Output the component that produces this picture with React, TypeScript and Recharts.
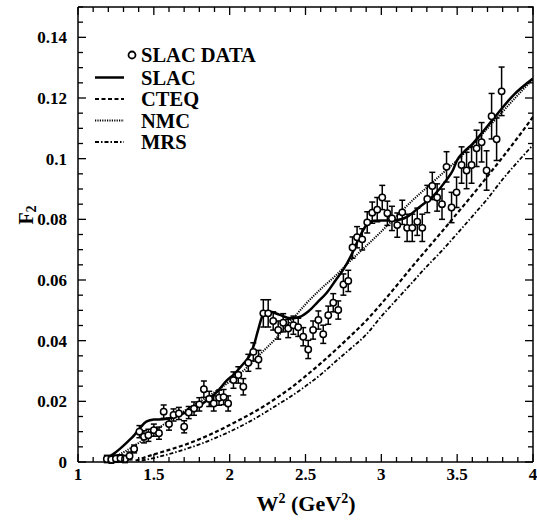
import { ComposedChart, Line, Scatter, XAxis, YAxis, ErrorBar } from "recharts";

// SLAC data points
const dataW2 = [
  1.19, 1.22, 1.25, 1.28, 1.31, 1.34, 1.37, 1.405, 1.435, 1.464,
  1.5, 1.534, 1.565, 1.6, 1.63, 1.665, 1.7, 1.73, 1.765, 1.8,
  1.83, 1.865, 1.895, 1.93, 1.96, 1.99, 2.025, 2.057, 2.09, 2.123,
  2.156, 2.19, 2.222, 2.254, 2.287, 2.32, 2.353, 2.386, 2.42, 2.452,
  2.485, 2.518, 2.55, 2.585, 2.617, 2.65, 2.683, 2.716, 2.75, 2.782,
  2.81, 2.84, 2.874, 2.907, 2.94, 2.973, 3.006, 3.04, 3.07, 3.105,
  3.138, 3.17, 3.204, 3.237, 3.27, 3.303, 3.336, 3.368, 3.4, 3.43,
  3.463, 3.496, 3.529, 3.562, 3.595, 3.628, 3.661, 3.694, 3.727, 3.76,
  3.793,
];
const dataF2 = [
  0.001, 0.0008, 0.0011, 0.0012, 0.001, 0.002, 0.0043, 0.01, 0.0083, 0.0088,
  0.0105, 0.0095, 0.0166, 0.0125, 0.0155, 0.016, 0.0116, 0.0163, 0.0176, 0.019,
  0.024, 0.0208, 0.0193, 0.0212, 0.0214, 0.0193, 0.027, 0.0287, 0.0248, 0.0327,
  0.0363, 0.0338, 0.049, 0.049, 0.0465, 0.0435, 0.0459, 0.044, 0.0451, 0.0444,
  0.0413, 0.0371, 0.0435, 0.0468, 0.0421, 0.0484, 0.0525, 0.0501, 0.0585, 0.0597,
  0.0707, 0.0741, 0.0734, 0.079, 0.0822, 0.0832, 0.0872, 0.082, 0.0803, 0.0781,
  0.0823, 0.0772, 0.0772, 0.0792, 0.0772, 0.0867, 0.091, 0.0872, 0.085, 0.0973,
  0.0839, 0.0889, 0.0979, 0.0961, 0.0979, 0.1034, 0.1054, 0.0961, 0.114, 0.1064,
  0.1222,
];
const dataErr = [
  0.0012, 0.0012, 0.0012, 0.0012, 0.0012, 0.0013, 0.0013, 0.002, 0.002, 0.002,
  0.002, 0.002, 0.0022, 0.002, 0.002, 0.002, 0.002, 0.002, 0.0022, 0.0022,
  0.0027, 0.0025, 0.0025, 0.0025, 0.0025, 0.0025, 0.0027, 0.0027, 0.0027, 0.0028,
  0.003, 0.003, 0.0045, 0.0045, 0.003, 0.003, 0.003, 0.003, 0.003, 0.003,
  0.003, 0.003, 0.003, 0.003, 0.003, 0.003, 0.003, 0.003, 0.0035, 0.0035,
  0.0035, 0.0035, 0.0035, 0.0035, 0.0035, 0.004, 0.004, 0.004, 0.004, 0.004,
  0.004, 0.0045, 0.0045, 0.0045, 0.0045, 0.0045, 0.0045, 0.0045, 0.005, 0.005,
  0.005, 0.005, 0.006, 0.006, 0.006, 0.006, 0.0065, 0.0065, 0.0075, 0.007,
  0.008,
];

// model curves
const slacW2 = [1.18, 1.23, 1.28, 1.33, 1.37, 1.41, 1.45, 1.5, 1.56, 1.62, 1.68, 1.74, 1.8, 1.86, 1.92, 1.98, 2.03, 2.08, 2.13, 2.16, 2.19, 2.22, 2.26, 2.33, 2.4, 2.46, 2.52, 2.58, 2.64, 2.7, 2.75, 2.8, 2.85, 2.9, 2.95, 3.0, 3.08, 3.17, 3.25, 3.34, 3.43, 3.47, 3.5, 3.55, 3.6, 3.65, 3.74, 3.87, 4.0];
const slacF2 = [0.0012, 0.0025, 0.0045, 0.0068, 0.0088, 0.0113, 0.0133, 0.014, 0.0141, 0.0146, 0.0157, 0.017, 0.0186, 0.0207, 0.0233, 0.0268, 0.029, 0.0318, 0.035, 0.0385, 0.044, 0.0485, 0.0496, 0.0485, 0.0474, 0.0478, 0.0497, 0.0527, 0.0558, 0.06, 0.0635, 0.068, 0.0735, 0.078, 0.0795, 0.0796, 0.0796, 0.0808, 0.084, 0.0876, 0.093, 0.096, 0.0995, 0.1025, 0.1048, 0.1077, 0.1132, 0.1209, 0.1264];

const cteqW2 = [1.38, 1.45, 1.5, 1.6, 1.7, 1.8, 1.9, 2.0, 2.1, 2.2, 2.3, 2.4, 2.5, 2.6, 2.7, 2.8, 2.9, 3.0, 3.1, 3.2, 3.3, 3.4, 3.5, 3.6, 3.7, 3.8, 3.9, 4.0];
const cteqF2 = [0.0004, 0.0017, 0.0025, 0.004, 0.0056, 0.0075, 0.0097, 0.0122, 0.0148, 0.0176, 0.0208, 0.0243, 0.0283, 0.0325, 0.037, 0.0417, 0.0466, 0.0522, 0.0581, 0.0642, 0.0701, 0.076, 0.082, 0.088, 0.0942, 0.1005, 0.107, 0.1138];

const nmcW2 = [1.2, 1.3, 1.4, 1.5, 1.6, 1.7, 1.8, 1.9, 2.0, 2.1, 2.2, 2.3, 2.4, 2.5, 2.6, 2.7, 2.8, 2.9, 3.0, 3.1, 3.2, 3.3, 3.4, 3.5, 3.6, 3.7, 3.8, 3.9, 4.0];
const nmcF2 = [0.0008, 0.0032, 0.0063, 0.01, 0.0136, 0.0168, 0.0198, 0.023, 0.0265, 0.0305, 0.0355, 0.0405, 0.0462, 0.052, 0.057, 0.0615, 0.0665, 0.0712, 0.076, 0.081, 0.086, 0.0905, 0.095, 0.0995, 0.1045, 0.11, 0.1155, 0.121, 0.1262];

const mrsW2 = [1.42, 1.5, 1.6, 1.7, 1.8, 1.9, 2.0, 2.1, 2.2, 2.3, 2.4, 2.5, 2.6, 2.7, 2.8, 2.9, 3.0, 3.1, 3.2, 3.3, 3.4, 3.5, 3.6, 3.7, 3.8, 3.9, 4.0];
const mrsF2 = [0.0005, 0.0013, 0.0026, 0.0041, 0.0058, 0.0078, 0.01, 0.0125, 0.0153, 0.0184, 0.0215, 0.025, 0.0288, 0.0332, 0.0375, 0.042, 0.048, 0.0535, 0.059, 0.0645, 0.0697, 0.0753, 0.081, 0.0868, 0.0932, 0.099, 0.1045];

// axis ticks
const xTicks = [1, 1.1, 1.2, 1.3, 1.4, 1.5, 1.6, 1.7, 1.8, 1.9, 2, 2.1, 2.2, 2.3, 2.4, 2.5, 2.6, 2.7, 2.8, 2.9, 3, 3.1, 3.2, 3.3, 3.4, 3.5, 3.6, 3.7, 3.8, 3.9, 4];
const xLabels = [1, 1.5, 2, 2.5, 3, 3.5, 4];
const yTicks = [0, 0.005, 0.01, 0.015, 0.02, 0.025, 0.03, 0.035, 0.04, 0.045, 0.05, 0.055, 0.06, 0.065, 0.07, 0.075, 0.08, 0.085, 0.09, 0.095, 0.1, 0.105, 0.11, 0.115, 0.12, 0.125, 0.13, 0.135, 0.14, 0.145, 0.15];
const yLabels = [0, 0.02, 0.04, 0.06, 0.08, 0.1, 0.12, 0.14];

const points = dataW2.map((x, i) => ({ x, y: dataF2[i], err: dataErr[i] }));
const toLine = (xs: number[], ys: number[]) => xs.map((x, i) => ({ x, y: ys[i] }));
const slac = toLine(slacW2, slacF2);
const cteq = toLine(cteqW2, cteqF2);
const nmc = toLine(nmcW2, nmcF2);
const mrs = toLine(mrsW2, mrsF2);

const isIn = (arr: number[], v: number) => arr.some((a) => Math.abs(a - v) < 1e-9);

// plot box (matches chart margins + axis sizes below)
const W = 537, H = 522;
const M = { top: 7, right: 4 };
const AXIS_W = 78, AXIS_H = 60;
const plot = { left: AXIS_W, right: W - M.right, top: M.top, bottom: H - AXIS_H };
const sx = (v: number) => plot.left + ((v - 1) / 3) * (plot.right - plot.left);
const sy = (v: number) => plot.bottom - (v / 0.15) * (plot.bottom - plot.top);

const font = "'Liberation Serif', 'Times New Roman', serif";

const LeftTick = (p: any) => {
  const v = p.payload.value;
  const major = isIn(yLabels, v);
  return (
    <g>
      <line x1={p.x} x2={p.x + (major ? 8 : 5)} y1={p.y} y2={p.y} stroke="#000" strokeWidth={1.3} />
      {major && (
        <text x={p.x - 11} y={p.y + 6} textAnchor="end" fontFamily={font} fontWeight="bold" fontSize={17} fill="#000">
          {String(v)}
        </text>
      )}
    </g>
  );
};

const BottomTick = (p: any) => {
  const v = p.payload.value;
  const major = isIn(xLabels, v);
  return (
    <g>
      <line x1={p.x} x2={p.x} y1={p.y} y2={p.y - (major ? 8 : 5)} stroke="#000" strokeWidth={1.3} />
      {major && (
        <text x={p.x} y={p.y + 18} textAnchor="middle" fontFamily={font} fontWeight="bold" fontSize={17} fill="#000">
          {String(v)}
        </text>
      )}
    </g>
  );
};

const OpenCircle = (p: any) => (
  <circle cx={p.cx} cy={p.cy} r={3.2} fill="#fff" stroke="#000" strokeWidth={1.5} />
);

const legendLines = [
  { label: "SLAC", dash: undefined, width: 2.5 },
  { label: "CTEQ", dash: "4 2.5", width: 2.2 },
  { label: "NMC", dash: "1.2 1.2", width: 2 },
  { label: "MRS", dash: "4 2 1.5 2", width: 1.8 },
];

const axisLine = { stroke: "#000", strokeWidth: 1.5 };

const App = () => (
  <div style={{ position: "absolute", left: 0, top: 0, width: W, height: H, background: "#fff" }}>
    <ComposedChart width={W} height={H} margin={{ top: M.top, right: M.right, bottom: 0, left: 0 }}>
      <XAxis dataKey="x" type="number" domain={[1, 4]} ticks={xTicks} interval={0} allowDataOverflow
        height={AXIS_H} tickSize={0} tickMargin={0} tickLine={false} axisLine={axisLine} tick={<BottomTick />} />
      <YAxis dataKey="y" type="number" domain={[0, 0.15]} ticks={yTicks} interval={0} allowDataOverflow
        width={AXIS_W} tickSize={0} tickMargin={0} tickLine={false} axisLine={axisLine} tick={<LeftTick />} />

      <Line data={mrs} dataKey="y" type="monotone" stroke="#000" strokeWidth={1.8}
        strokeDasharray="4 2 1.5 2" dot={false} isAnimationActive={false} />
      <Line data={cteq} dataKey="y" type="monotone" stroke="#000" strokeWidth={2.2}
        strokeDasharray="4 2.5" dot={false} isAnimationActive={false} />
      <Line data={nmc} dataKey="y" type="monotone" stroke="#000" strokeWidth={2}
        strokeDasharray="1.2 1.2" dot={false} isAnimationActive={false} />
      <Line data={slac} dataKey="y" type="monotone" stroke="#000" strokeWidth={2.5}
        dot={false} isAnimationActive={false} />
      <Scatter data={points} dataKey="y" shape={<OpenCircle />} isAnimationActive={false}>
        <ErrorBar dataKey="err" direction="y" width={3} stroke="#000" strokeWidth={1.5} isAnimationActive={false} />
      </Scatter>
    </ComposedChart>

    <svg width={W} height={H} style={{ position: "absolute", left: 0, top: 0, pointerEvents: "none" }}
      fontFamily={font} fontWeight="bold" fill="#000">
      {/* top and right sides of the frame with inward ticks */}
      <polyline points={`${plot.left},${plot.top} ${plot.right},${plot.top} ${plot.right},${plot.bottom}`}
        fill="none" stroke="#000" strokeWidth={1.5} />
      {xTicks.map((v) => (
        <line key={"t" + v} x1={sx(v)} x2={sx(v)} y1={plot.top} y2={plot.top + (isIn(xLabels, v) ? 8 : 5)}
          stroke="#000" strokeWidth={1.3} />
      ))}
      {yTicks.map((v) => (
        <line key={"r" + v} x1={plot.right} x2={plot.right - (isIn(yLabels, v) ? 8 : 5)} y1={sy(v)} y2={sy(v)}
          stroke="#000" strokeWidth={1.3} />
      ))}

      <circle cx={132} cy={55} r={3.5} fill="#fff" stroke="#000" strokeWidth={1.8} />
      <text x={141} y={62} fontSize={20.5}>SLAC DATA</text>
      {legendLines.map((l, i) => (
        <g key={l.label}>
          <line x1={95} x2={124} y1={77.5 + i * 21.5} y2={77.5 + i * 21.5} stroke="#000"
            strokeWidth={l.width} strokeDasharray={l.dash} />
          <text x={141} y={84.5 + i * 21.5} fontSize={20.5}>{l.label}</text>
        </g>
      ))}
      <text x={306} y={511} textAnchor="middle" fontSize={22}>
        W<tspan dy={-8} fontSize={14}>2</tspan>
        <tspan dy={8}> (GeV</tspan>
        <tspan dy={-8} fontSize={14}>2</tspan>
        <tspan dy={8}>)</tspan>
      </text>
      <text x={33} y={215} transform="rotate(-90, 33, 215)" textAnchor="middle" fontSize={20}>
        F<tspan dy={3} fontSize={14}>2</tspan>
      </text>
    </svg>
  </div>
);

export default App;
